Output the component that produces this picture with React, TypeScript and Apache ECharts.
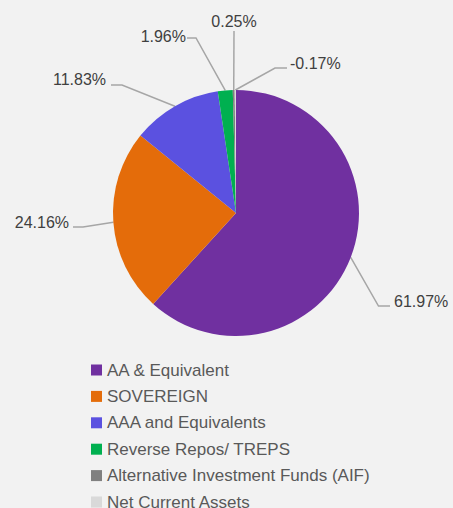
import React, { useEffect, useRef } from 'react';
import * as echarts from 'echarts';

const categories = [
  'AA & Equivalent',
  'SOVEREIGN',
  'AAA and Equivalents',
  'Reverse Repos/ TREPS',
  'Alternative Investment Funds (AIF)',
  'Net Current Assets',
];
const values = [61.97, 24.16, 11.83, 1.96, 0.25, -0.17];
const colors = ['#7030A0', '#E46C0A', '#5B51E0', '#00B050', '#808080', '#D9D9D9'];

// label placement (layout only)
const labelSpots: { x: number; y: number; align: string; line: number[][] }[] = [
  { x: 394, y: 301, align: 'left', line: [[378.5, 306], [390, 306]] },
  { x: 69, y: 222, align: 'right', line: [[83, 227], [73, 227]] },
  { x: 106, y: 79, align: 'right', line: [[122, 85], [111, 85]] },
  { x: 186, y: 36, align: 'right', line: [[196, 38], [187, 38]] },
  { x: 234, y: 21, align: 'center', line: [[234, 31]] },
  { x: 290, y: 63, align: 'left', line: [[275, 68], [287, 68]] },
];

const FONT = 'Liberation Sans';

export default function App() {
  const ref = useRef<HTMLDivElement>(null);
  useEffect(() => {
    document.body.style.margin = '0';
    const chart = echarts.init(ref.current!, null, { renderer: 'svg' });
    chart.setOption({
      animation: false,
      backgroundColor: '#f2f2f2',
      color: colors,
      legend: {
        orient: 'vertical',
        left: 91,
        top: 361.5,
        height: 300,
        padding: 0,
        itemWidth: 11,
        itemHeight: 11,
        itemGap: 9.4,
        icon: 'rect',
        selectedMode: false,
        textStyle: { fontFamily: FONT, fontSize: 17, color: '#595959', lineHeight: 17 },
        data: categories,
      },
      series: [
        {
          type: 'pie',
          center: [236, 213],
          radius: 123,
          startAngle: 90,
          clockwise: true,
          avoidLabelOverlap: false,
          minShowLabelAngle: 0,
          itemStyle: { borderWidth: 0 },
          emphasis: { disabled: true },
          label: {
            show: true,
            position: 'outside',
            width: 80,
            fontFamily: FONT,
            fontSize: 16,
            color: '#404040',
            formatter: (p: any) => values[p.dataIndex].toFixed(2) + '%',
          },
          labelLine: {
            show: true,
            length: 15,
            length2: 10,
            lineStyle: { color: '#A6A6A6', width: 1.5 },
          },
          labelLayout: (params: any) => {
            const s = labelSpots[params.dataIndex];
            const p0 = params.labelLinePoints ? params.labelLinePoints[0] : null;
            const res: any = { x: s.x, y: s.y, align: s.align, verticalAlign: 'middle' };
            if (p0) res.labelLinePoints = [p0, ...s.line];
            return res;
          },
          data: categories.map((name, i) => ({
            name,
            value: Math.abs(values[i]),
            itemStyle: { color: colors[i] },
          })),
        },
      ],
    });
    return () => chart.dispose();
  }, []);
  return <div ref={ref} style={{ width: 453, height: 508, background: '#f2f2f2' }} />;
}
